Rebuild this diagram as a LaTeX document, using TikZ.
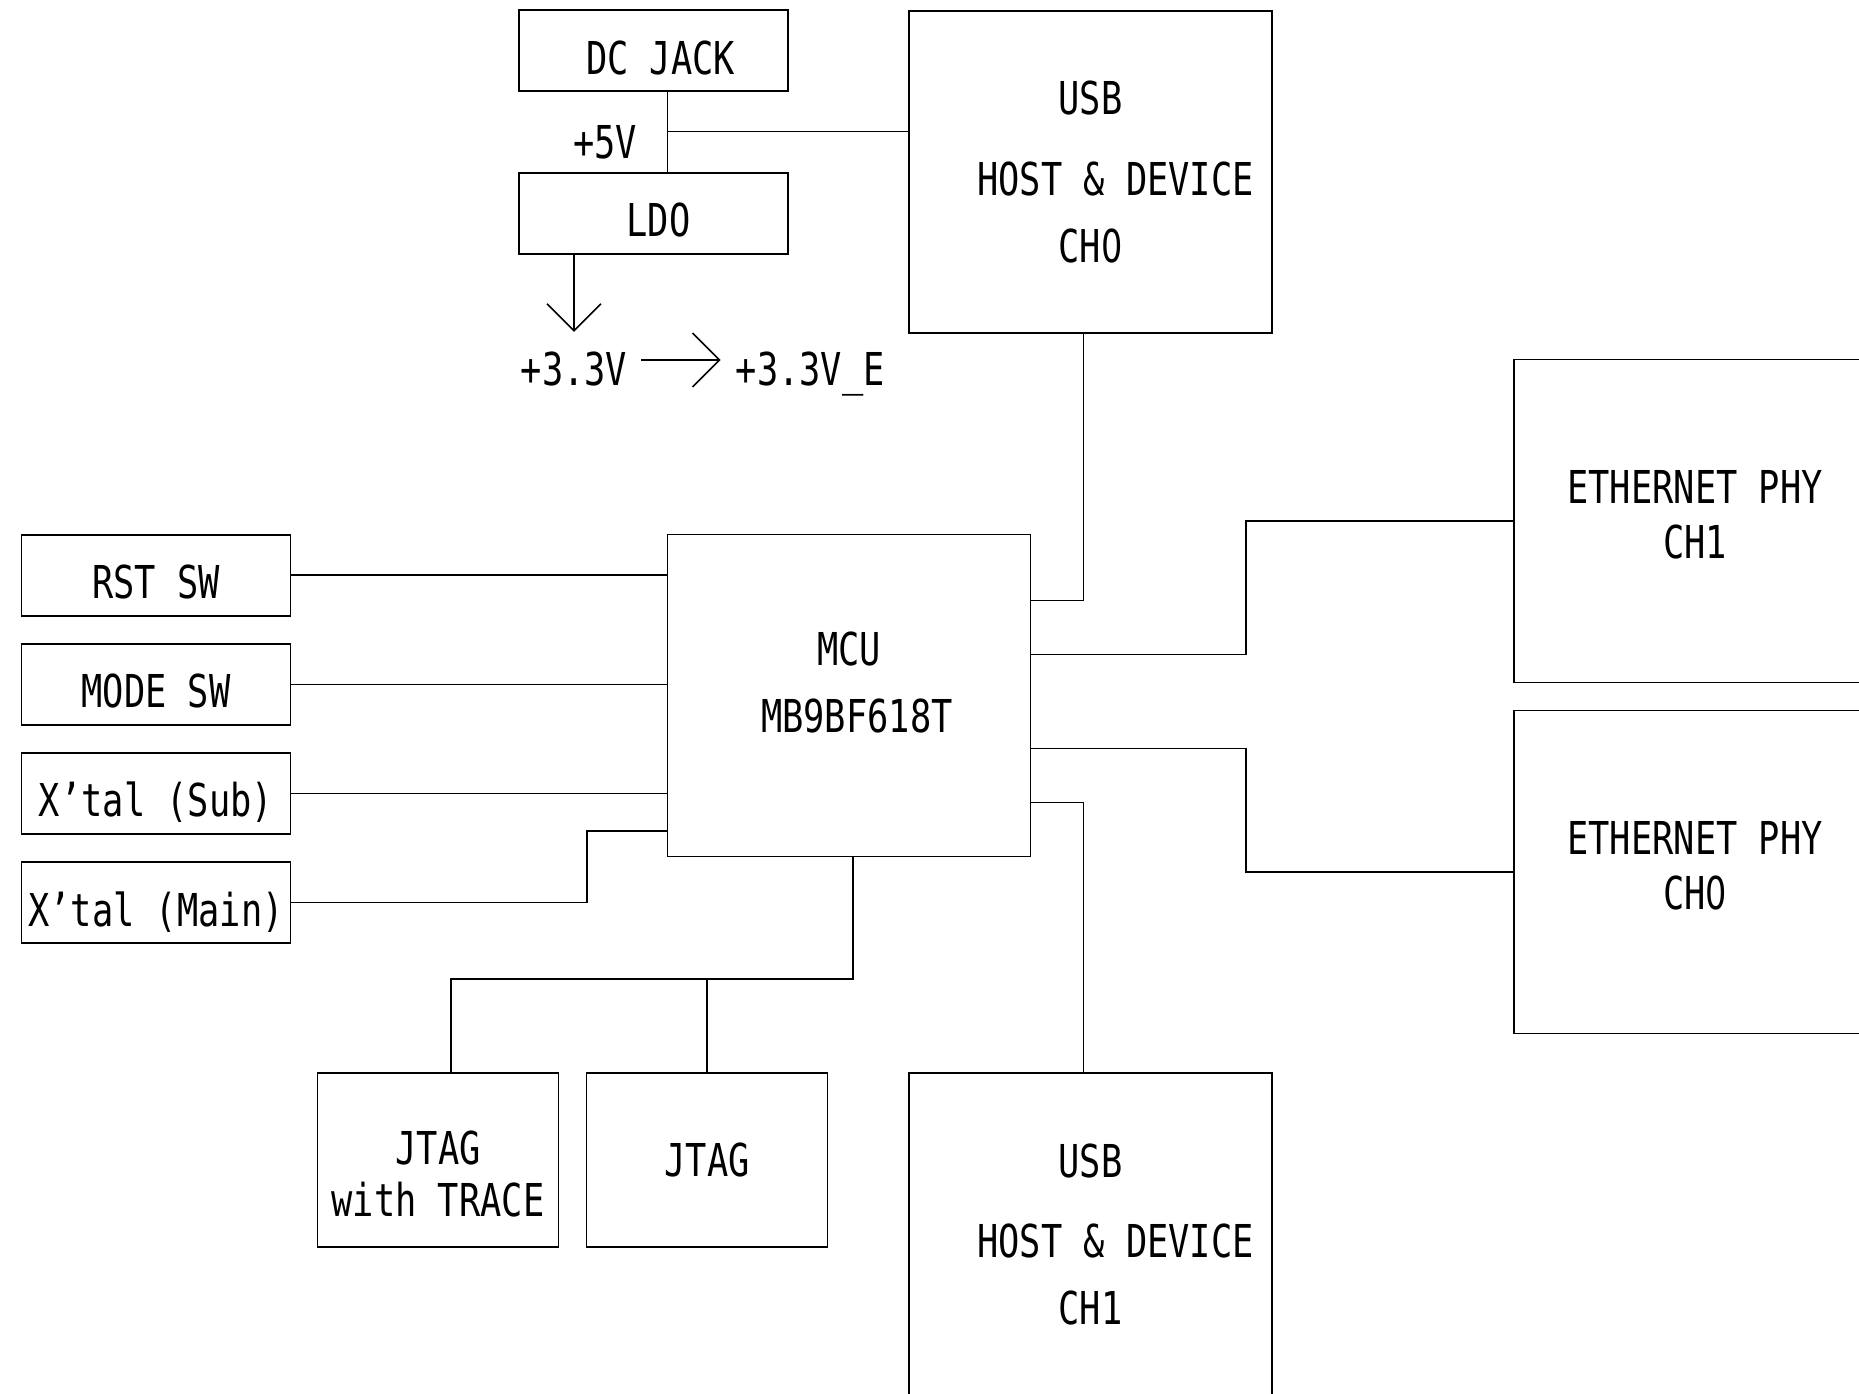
\documentclass[tikz,border=0pt]{standalone}
\usepackage{fontspec}
\usetikzlibrary{positioning,arrows.meta}
\newfontfamily\gothic[FakeStretch=0.78]{DejaVu Sans Mono}
\newfontfamily\zerofont[FakeStretch=0.74]{DejaVu Sans}
\newcommand\zro{{\zerofont 0}}

\begin{document}
\begin{tikzpicture}[x=1pt, y=-1pt, node distance=26.5pt, line width=1.6pt,
blk/.style={draw, inner sep=0pt, align=center, font=\gothic\fontsize{45.3}{67}\selectfont},
onel/.style={text height=47pt, text depth=0pt},
swbox/.style={blk, onel, minimum width=269pt, minimum height=81pt},
usbbox/.style={blk, minimum width=363pt, minimum height=322pt},
phybox/.style={blk, minimum width=362pt, minimum height=323pt, font=\gothic\fontsize{45.3}{54.5}\selectfont},
jtagbox/.style={blk, minimum width=241pt, minimum height=174pt, font=\gothic\fontsize{45.3}{52.5}\selectfont},
lbl/.style={inner sep=0pt, text height=50pt, text depth=0pt, font=\gothic\fontsize{45.3}{50}\selectfont},
pwr/.style={-{Straight Barb[length=27pt, width=54pt]}}]

\useasboundingbox (0,0) rectangle (1859,1393);

\node[swbox] (dcjack) at (653.5,50.6) {\hspace*{14pt}DC JACK};
\node[swbox, below=80pt of dcjack] (ldo) {\hspace*{10pt}LDO};
\node[usbbox] (usbA) at (1090.5,171.7) {USB\\[13.7pt]\hspace*{50pt}HOST \& DEVICE\\CH\zro};

\node[lbl] (v5) at (605,133) {+5V};
\node[lbl, anchor=west] (v33) at (520,360) {+3.3V};
\node[lbl, anchor=west] (v33e) at (735,360) {+3.3V\_E};

\node[usbbox] (mcu) at (848.9,695.4) {MCU\\\hspace*{16pt}MB9BF618T\rule[-26pt]{0pt}{26pt}};

\node[phybox] (ethB) at (1695,521) {ETHERNET PHY\\CH1\rule[-13pt]{0pt}{13pt}};
\node[phybox, below=of ethB] (ethA) {ETHERNET PHY\\CH\zro\rule[-13pt]{0pt}{13pt}};

\node[swbox] (rst) at (156,575.2) {RST SW};
\node[swbox, below=of rst] (mode) {MODE SW};
\node[swbox, below=of mode] (xsub) {X’tal (Sub)};
\node[swbox, below=of xsub] (xmain) {X’tal (Main)};

\node[jtagbox] (jtagT) at (438,1159.7) {\rule{0pt}{62pt}JTAG\\with TRACE};
\node[jtagbox, right=of jtagT] (jtag) {JTAG};
\node[usbbox, minimum height=323pt] (usbB) at (1090.5,1234.5) {USB\\[13.7pt]\hspace*{50pt}HOST \& DEVICE\\CH1};

\coordinate (tap) at (667.5,131.3);
\draw (dcjack.south -| tap) -- (ldo.north -| tap);
\draw (tap) -- (tap -| usbA.west);
\draw[pwr] (ldo.south -| v33) -- ([yshift=2.3pt]v33.north);
\draw[pwr, shorten <=13.5pt, shorten >=14.3pt] (v33) -- (v33e);

\draw ([xshift=-7pt]usbA.south) |- ([yshift=-67pt]mcu.north east);
\draw ([yshift=-121pt]mcu.north east) -- ++(215,0) |- (ethB.west);
\draw ([yshift=-215pt]mcu.north east) -- ++(215,0) |- (ethA.west);
\draw ([yshift=-269pt]mcu.north east) -| ([xshift=-7pt]usbB.north);

\draw (rst.east) -- (rst.east -| mcu.west);
\draw (mode.east) -- (mode.east -| mcu.west);
\draw (xsub.east) -- (xsub.east -| mcu.west);
\draw (xmain.east) -- ++(295.5,0) |- ([yshift=26pt]mcu.south west);

\draw ([xshift=4pt]mcu.south) -- ++(0,122) -| ([xshift=13pt]jtagT.north);
\draw (jtag.north) -- ++(0,-94.3);

\end{tikzpicture}
\end{document}
